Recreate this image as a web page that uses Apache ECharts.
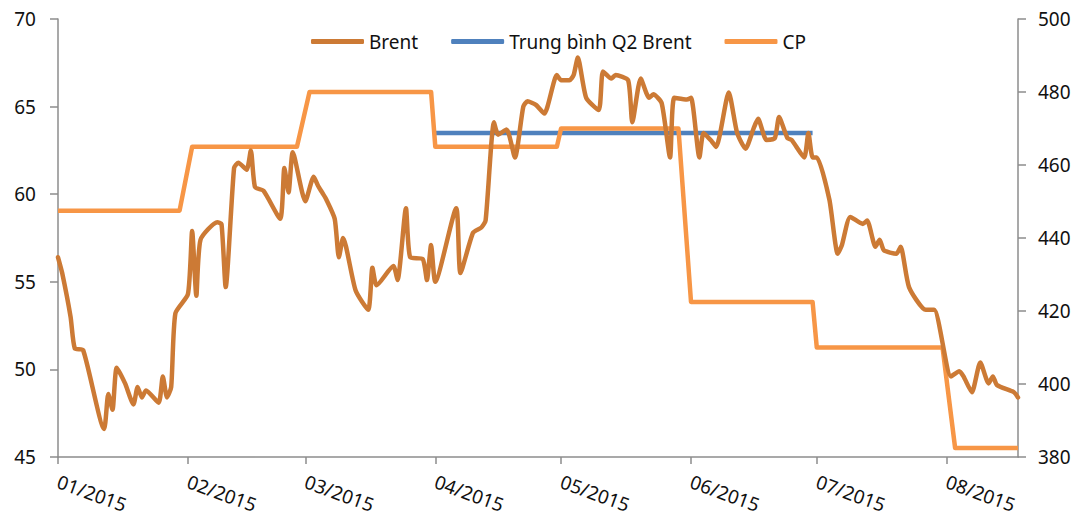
<!DOCTYPE html>
<html>
<head>
<meta charset="utf-8">
<script src="https://cdn.jsdelivr.net/npm/echarts@6/dist/echarts.min.js"></script>
<style>
  html, body { margin: 0; padding: 0; background: #fff; }
  #chart { width: 1089px; height: 519px; }
</style>
</head>
<body>
<div id="chart"></div>
<script>
var startDay = '2015-01-01'
  , endDay = '2015-08-18';

// Brent, USD/thùng (trục trái)
var brentDates = [
  '2015-01-01','2015-01-02','2015-01-04','2015-01-05','2015-01-07','2015-01-12','2015-01-13','2015-01-14',
  '2015-01-15','2015-01-17','2015-01-19','2015-01-20','2015-01-21','2015-01-22','2015-01-25','2015-01-26',
  '2015-01-27','2015-01-28','2015-01-29','2015-02-01','2015-02-02','2015-02-03','2015-02-04','2015-02-08',
  '2015-02-09','2015-02-10','2015-02-12','2015-02-13','2015-02-15','2015-02-16','2015-02-17','2015-02-19',
  '2015-02-23','2015-02-24','2015-02-25','2015-02-26','2015-03-01','2015-03-03','2015-03-04','2015-03-05',
  '2015-03-06','2015-03-08','2015-03-09','2015-03-10','2015-03-13','2015-03-16','2015-03-17','2015-03-18',
  '2015-03-22','2015-03-23','2015-03-25','2015-03-26','2015-03-29','2015-03-30','2015-03-31','2015-04-01',
  '2015-04-06','2015-04-07','2015-04-10','2015-04-12','2015-04-13','2015-04-15','2015-04-16','2015-04-18',
  '2015-04-20','2015-04-22','2015-04-23','2015-04-25','2015-04-27','2015-04-30','2015-05-01','2015-05-03',
  '2015-05-04','2015-05-05','2015-05-07','2015-05-10','2015-05-11','2015-05-13','2015-05-14','2015-05-17',
  '2015-05-18','2015-05-20','2015-05-22','2015-05-23','2015-05-25','2015-05-27','2015-05-28','2015-05-31',
  '2015-06-01','2015-06-03','2015-06-04','2015-06-06','2015-06-07','2015-06-10','2015-06-12','2015-06-14',
  '2015-06-16','2015-06-17','2015-06-19','2015-06-21','2015-06-22','2015-06-24','2015-06-25','2015-06-28',
  '2015-06-29','2015-06-30','2015-07-01','2015-07-04','2015-07-06','2015-07-07','2015-07-09','2015-07-12',
  '2015-07-13','2015-07-15','2015-07-16','2015-07-17','2015-07-20','2015-07-21','2015-07-23','2015-07-27',
  '2015-07-29','2015-08-02','2015-08-04','2015-08-05','2015-08-07','2015-08-09','2015-08-11','2015-08-12',
  '2015-08-13','2015-08-17','2015-08-18'
];
var brentValues = [
  56.4, 55.5, 53.0, 51.2, 51.1, 46.6, 48.6, 47.7,
  50.1, 49.2, 48.0, 49.0, 48.4, 48.8, 48.1, 49.6,
  48.4, 49.0, 53.2, 54.3, 57.9, 54.2, 57.4, 58.4,
  58.3, 54.7, 61.5, 61.8, 61.4, 62.5, 60.4, 60.2,
  58.6, 61.5, 60.1, 62.4, 59.6, 61.0, 60.5, 60.1,
  59.7, 58.6, 56.4, 57.5, 54.5, 53.4, 55.8, 54.8,
  55.9, 55.1, 59.2, 56.4, 56.3, 55.1, 57.1, 55.0,
  59.2, 55.5, 57.8, 58.1, 58.5, 64.1, 63.4, 63.7,
  62.1, 65.0, 65.3, 65.1, 64.6, 66.8, 66.5, 66.5,
  66.8, 67.8, 65.5, 64.8, 67.0, 66.6, 66.8, 66.5,
  64.1, 66.6, 65.5, 65.7, 65.2, 62.1, 65.5, 65.4,
  65.5, 62.1, 63.5, 63.0, 62.7, 65.8, 63.5, 62.6,
  63.8, 64.3, 63.1, 63.2, 64.4, 63.2, 63.1, 62.1,
  63.5, 62.1, 62.1, 59.7, 56.6, 57.1, 58.7, 58.3,
  58.5, 57.0, 57.4, 56.8, 56.6, 57.0, 54.7, 53.4,
  53.4, 49.6, 49.9, 49.6, 48.7, 50.4, 49.2, 49.6,
  49.1, 48.7, 48.4
];

// Trung bình Q2 Brent
var q2Dates = ['2015-04-01', '2015-06-30']
  , q2Avg = 63.5;

// CP, USD/tấn (trục phải)
var cpMonths = ['2015-01','2015-02','2015-03','2015-04','2015-05','2015-06','2015-07','2015-08'];
var cpValues = [447.5, 465, 480, 465, 470, 422.5, 410, 382.5];

var leftTicks = [45, 70, 5]
  , rightTicks = [380, 500, 20];

function pad(n) { return n < 10 ? '0' + n : '' + n; }

var days = [];
var t = new Date(startDay + 'T00:00:00Z');
var tEnd = new Date(endDay + 'T00:00:00Z');
while (t <= tEnd) {
  days.push(t.getUTCFullYear() + '-' + pad(t.getUTCMonth() + 1) + '-' + pad(t.getUTCDate()));
  t = new Date(t.getTime() + 86400000);
}

function isWeekday(d) {
  var wd = new Date(d + 'T00:00:00Z').getUTCDay();
  return wd != 0 && wd != 6;
}

var cpData = [];
cpMonths.forEach(function(m, i) {
  var ds = days.filter(function(d) { return d.slice(0, 7) == m && isWeekday(d); });
  cpData.push([ds[0], cpValues[i]]);
  cpData.push([ds[ds.length - 1], cpValues[i]]);
});

var brentData = brentDates.map(function(d, i) { return [d, brentValues[i]]; });
var q2Data = q2Dates.map(function(d) { return [d, q2Avg]; });

function monthStart(i, v) { return v.slice(8) == '01'; }

var font = 'Noto Sans';
var axisGray = '#8c8c8c';

var chart = echarts.init(document.getElementById('chart'), null, {renderer: 'svg'});
var option = {
  animation: false,
  textStyle: { fontFamily: font },
  grid: { left: 58, right: 71, top: 19, bottom: 62, outerBoundsMode: 'none' },
  legend: {
    left: 306,
    top: 27,
    itemWidth: 53,
    itemHeight: 5,
    itemGap: 33,
    icon: 'roundRect',
    textStyle: { fontFamily: font, fontSize: 19, color: '#111' },
    data: ['Brent', 'Trung bình Q2 Brent', 'CP']
  },
  xAxis: {
    type: 'category',
    data: days,
    boundaryGap: false,
    axisLine: { lineStyle: { color: axisGray, width: 1.5 } },
    axisTick: { interval: monthStart, length: 7, lineStyle: { color: axisGray, width: 1.5 } },
    axisLabel: {
      interval: monthStart,
      rotate: -20,
      margin: 24,
      fontSize: 19,
      color: '#111',
      formatter: function(v) { return v.slice(5, 7) + '/' + v.slice(0, 4); }
    },
    splitLine: { show: false }
  },
  yAxis: [{
    type: 'value',
    min: leftTicks[0],
    max: leftTicks[1],
    interval: leftTicks[2],
    axisLine: { show: true, lineStyle: { color: axisGray, width: 1.5 } },
    axisTick: { show: true, length: 8, lineStyle: { color: axisGray, width: 1.5 } },
    axisLabel: { margin: 22, fontSize: 19, color: '#111' },
    splitLine: { show: false }
  }, {
    type: 'value',
    min: rightTicks[0],
    max: rightTicks[1],
    interval: rightTicks[2],
    axisLine: { show: true, lineStyle: { color: axisGray, width: 1.5 } },
    axisTick: { show: true, length: 8, lineStyle: { color: axisGray, width: 1.5 } },
    axisLabel: { margin: 20, fontSize: 19, color: '#111' },
    splitLine: { show: false }
  }],
  series: [{
    name: 'Brent',
    type: 'line',
    data: brentData,
    yAxisIndex: 0,
    showSymbol: false,
    smooth: 0.2,
    z: 4,
    color: '#cc7a35',
    lineStyle: { width: 4.5, cap: 'round', join: 'round' }
  }, {
    name: 'Trung bình Q2 Brent',
    type: 'line',
    data: q2Data,
    yAxisIndex: 0,
    showSymbol: false,
    z: 2,
    color: '#4f81bd',
    lineStyle: { width: 4.5 }
  }, {
    name: 'CP',
    type: 'line',
    data: cpData,
    yAxisIndex: 1,
    showSymbol: false,
    z: 3,
    color: '#f79646',
    lineStyle: { width: 4.5, join: 'round' }
  }]
};
chart.setOption(option);
</script>
</body>
</html>
